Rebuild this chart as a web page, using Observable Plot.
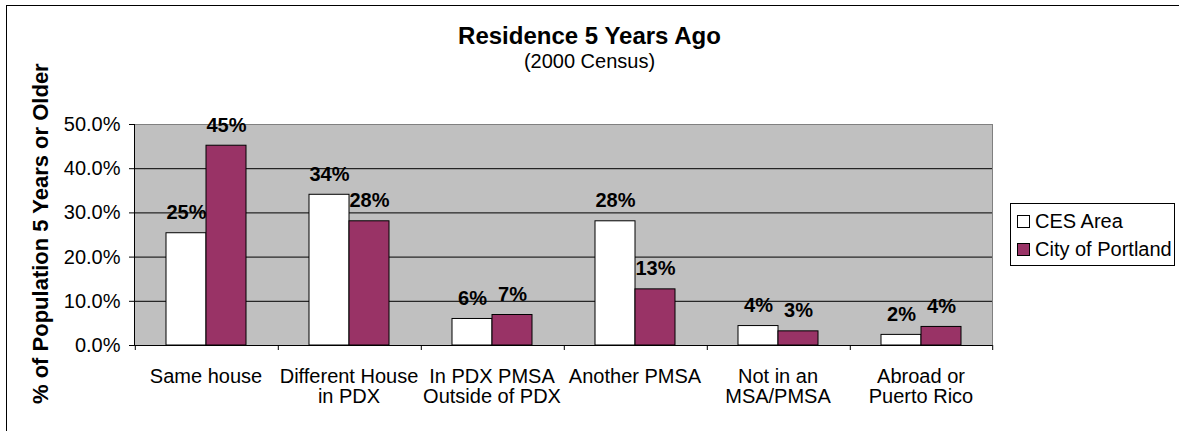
<!DOCTYPE html>
<html>
<head>
<meta charset="utf-8">
<script src="https://cdn.jsdelivr.net/npm/d3@7"></script>
<script src="https://cdn.jsdelivr.net/npm/@observablehq/plot@0.6"></script>
<style>
  html, body { margin: 0; padding: 0; background: #fff; }
  #chart { position: relative; width: 1179px; height: 431px; overflow: hidden; font-family: "Liberation Sans", Arial, sans-serif; color: #000; background: #fff; }
  #border { position: absolute; left: 6px; top: 5px; width: 1250px; height: 500px; border: 1px solid #000; pointer-events: none; }
  #title { position: absolute; left: 0; top: 24px; width: 1179px; text-align: center; font-weight: bold; font-size: 24px; line-height: 24px; white-space: nowrap; }
  #subtitle { position: absolute; left: 0; top: 51px; width: 1179px; text-align: center; font-size: 20px; line-height: 20px; white-space: nowrap; }
  #ylabel { position: absolute; left: -124px; top: 227px; width: 330px; height: 24px; line-height: 24px; text-align: center; font-weight: bold; font-size: 22px; transform: rotate(-90deg); transform-origin: 50% 50%; white-space: nowrap; }
  #plot { position: absolute; left: 0; top: 90px; }
  #legend { position: absolute; left: 1010px; top: 203px; width: 165px; height: 63px; box-sizing: border-box; border: 1px solid #000; background: #fff; }
  .lg-sw { position: absolute; left: 6px; width: 11px; height: 11px; border: 1px solid #000; }
  .lg-tx { position: absolute; left: 24px; font-size: 20px; line-height: 20px; white-space: nowrap; }
</style>
</head>
<body>
<div id="chart">
  <div id="plot"></div>
  <div id="title"></div>
  <div id="subtitle"></div>
  <div id="ylabel"></div>
  <div id="legend"></div>
  <div id="border"></div>
</div>
<script>
// ---- data ----
const titleText = "Residence 5 Years Ago";
const subtitleText = "(2000 Census)";
const yAxisTitle = "% of Population 5 Years or Older";
const categories = ["Same house", "Different House in PDX", "In PDX PMSA Outside of PDX", "Another PMSA", "Not in an MSA/PMSA", "Abroad or Puerto Rico"];
const categoryTickLabels = ["Same house", "Different House\nin PDX", "In PDX PMSA\nOutside of PDX", "Another PMSA", "Not in an\nMSA/PMSA", "Abroad or\nPuerto Rico"];
const seriesNames = ["CES Area", "City of Portland"];
const cesArea = [25.4, 34.1, 6.0, 28.1, 4.4, 2.4];
const cityOfPortland = [45.2, 28.1, 6.9, 12.7, 3.2, 4.2];
const yTicks = [0, 10, 20, 30, 40, 50];
const yTickLabels = ["0.0%", "10.0%", "20.0%", "30.0%", "40.0%", "50.0%"];
const seriesColors = ["#FFFFFF", "#993366"];

// ---- table for the library ----
const rows = categories.flatMap((c, i) => [
  {category: c, series: seriesNames[0], value: cesArea[i]},
  {category: c, series: seriesNames[1], value: cityOfPortland[i]}
]);

// ---- layout ----
const W = 1179, H = 341, ML = 133, MR = 186, MT = 34, MB = 86;
const step = (W - ML - MR) / categories.length;
const barW = step / 3.5; // 150% gap width
const font = "Liberation Sans, Arial, sans-serif";

document.getElementById("title").textContent = titleText;
document.getElementById("subtitle").textContent = subtitleText;
document.getElementById("ylabel").textContent = yAxisTitle;

const plot = Plot.plot({
  width: W, height: H,
  marginLeft: ML, marginRight: MR, marginTop: MT, marginBottom: MB,
  style: {fontFamily: font, fontSize: "20px", color: "#000", background: "transparent", overflow: "visible"},
  fx: {domain: categories, padding: 0, label: null},
  x: {domain: seriesNames, paddingInner: 0, paddingOuter: 0.75, axis: null},
  y: {domain: [0, 50], label: null},
  color: {domain: seriesNames, range: seriesColors},
  marks: [
    Plot.frame({facet: "super", fill: "#C0C0C0", stroke: "#808080"}),
    Plot.ruleY(yTicks.filter(t => t > 0 && t < 50), {stroke: "#000", strokeWidth: 1}),
    Plot.barY(rows, {fx: "category", x: "series", y: "value", fill: "series", stroke: "#000", strokeWidth: 1}),
    Plot.ruleY([0], {stroke: "#000"}),
    Plot.frame({facet: "super", anchor: "left", stroke: "#000"}),
    Plot.ruleX(categories, {fx: d => d, x: () => seriesNames[0], y1: 0, y2: 0, insetBottom: -5, dx: -1.25 * barW, stroke: "#000"}),
    Plot.ruleX([categories[categories.length - 1]], {fx: d => d, x: () => seriesNames[1], y1: 0, y2: 0, insetBottom: -5, dx: 1.25 * barW, stroke: "#000"}),
    Plot.axisY({ticks: yTicks, tickFormat: d => yTickLabels[yTicks.indexOf(d)], tickSize: 5, tickPadding: 9, fontSize: 20, label: null, stroke: "#000"}),
    Plot.axisFx({anchor: "bottom", tickSize: 0, tickPadding: 23, fontSize: 20, lineHeight: 1, label: null,
      tickFormat: d => categoryTickLabels[categories.indexOf(d)]}),
    Plot.text(rows, {fx: "category", x: "series", y: "value", text: d => Math.round(d.value) + "%",
      lineAnchor: "bottom", dy: -14, fontWeight: "bold", fontSize: 20, fill: "#000"})
  ]
});
document.getElementById("plot").appendChild(plot);

// ---- legend ----
const legend = document.getElementById("legend");
const rowTops = [6.6, 35.3];
seriesNames.forEach((name, i) => {
  const sw = document.createElement("div");
  sw.className = "lg-sw";
  sw.style.top = (rowTops[i] + 4) + "px";
  sw.style.background = seriesColors[i];
  legend.appendChild(sw);
  const tx = document.createElement("div");
  tx.className = "lg-tx";
  tx.style.top = rowTops[i] + "px";
  tx.textContent = name;
  legend.appendChild(tx);
});
</script>
</body>
</html>
